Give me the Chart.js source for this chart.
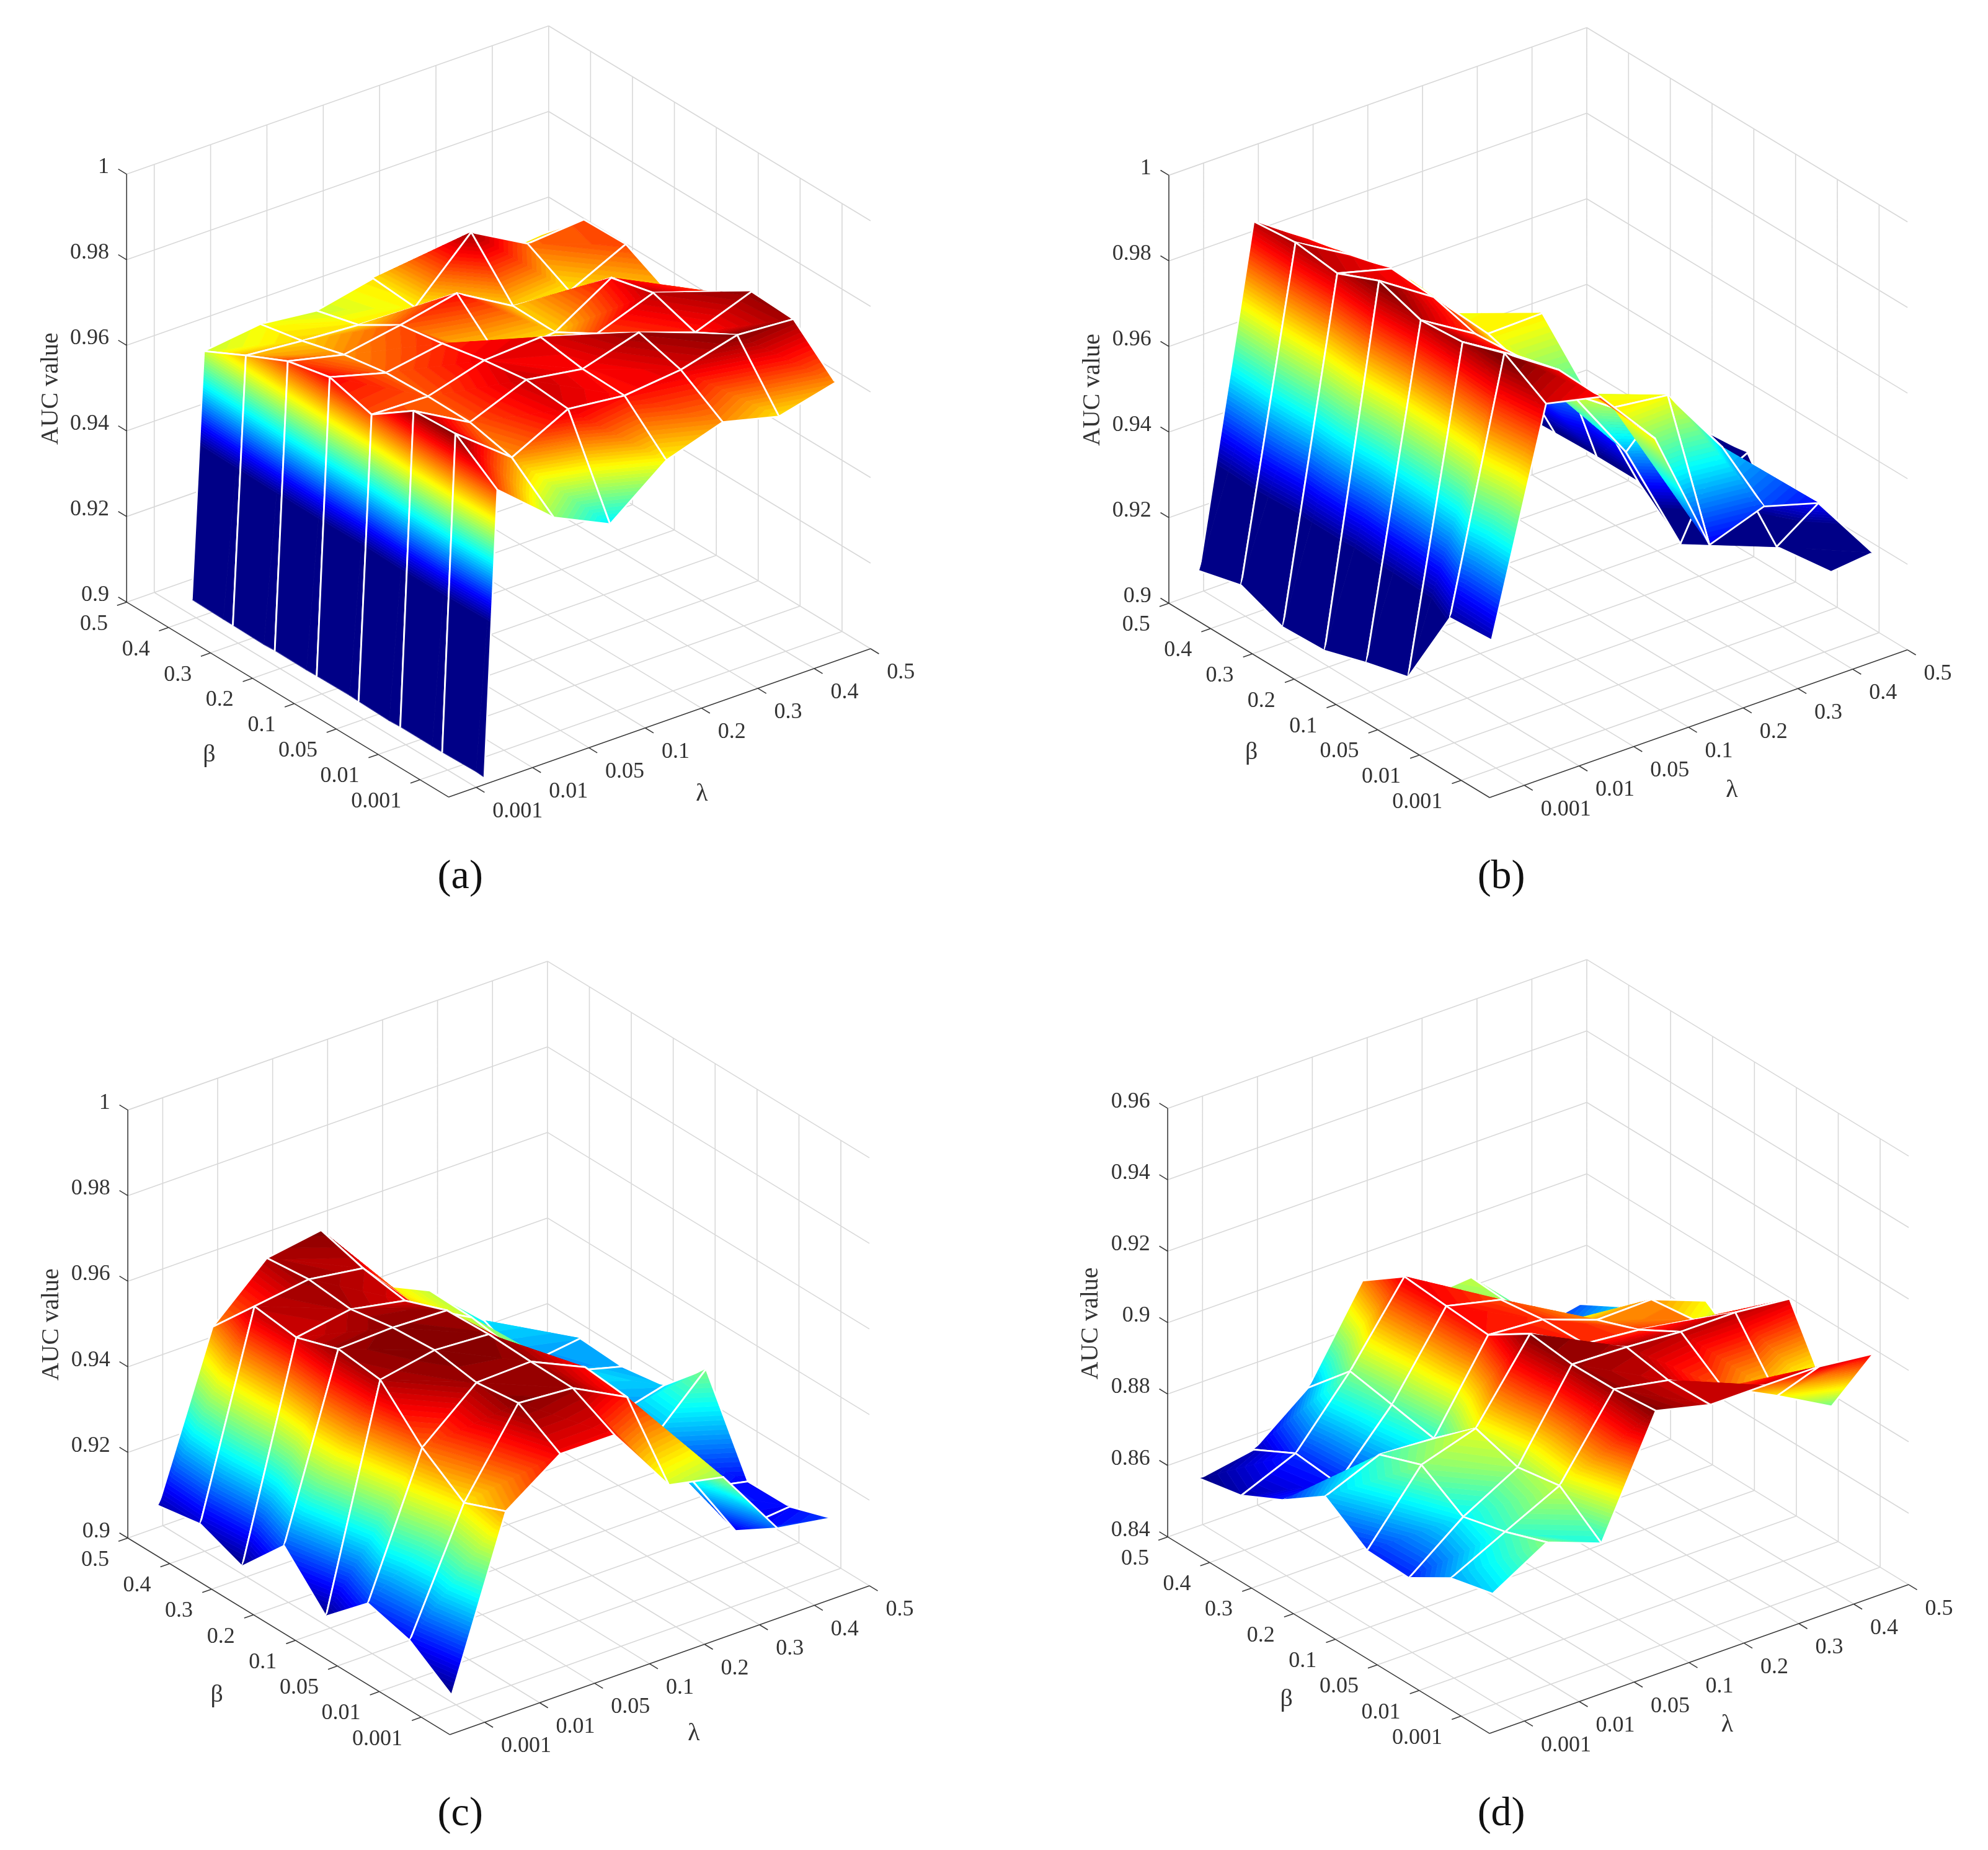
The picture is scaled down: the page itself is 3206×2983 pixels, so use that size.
<!DOCTYPE html>
<html>
<head>
<meta charset="utf-8">
<title>AUC value surfaces</title>
<style>
  html, body { margin: 0; background: #fff; }
  canvas { position: absolute; display: block; }
</style>
<script src="https://cdn.jsdelivr.net/npm/chart.js@4"></script>
</head>
<body>
<script>
// tick labels
const lambdaLabels = ["0.001", "0.01", "0.05", "0.1", "0.2", "0.3", "0.4", "0.5"];
const betaLabels = ["0.5", "0.4", "0.3", "0.2", "0.1", "0.05", "0.01", "0.001"];
const zTicksHigh = [0.9, 0.92, 0.94, 0.96, 0.98, 1];
const zLabelsHigh = ["0.9", "0.92", "0.94", "0.96", "0.98", "1"];
const zTicksLow = [0.84, 0.86, 0.88, 0.9, 0.92, 0.94, 0.96];
const zLabelsLow = ["0.84", "0.86", "0.88", "0.9", "0.92", "0.94", "0.96"];

// AUC values: one row per lambda, columns follow betaLabels.
// Row 0 of panel (a) sits under the axis floor and gets cut off there.
const aucA = [
  [0.692, 0.6929, 0.6775, 0.670, 0.6794, 0.6633, 0.6613, 0.6787],
  [0.9570, 0.9619, 0.9665, 0.9687, 0.9659, 0.9727, 0.9733, 0.9661],
  [0.9587, 0.9607, 0.9634, 0.9651, 0.9655, 0.9654, 0.9631, 0.9550],
  [0.9572, 0.9598, 0.9657, 0.9673, 0.9693, 0.9707, 0.9698, 0.9488],
  [0.9601, 0.9593, 0.9685, 0.9593, 0.9701, 0.9686, 0.9683, 0.9591],
  [0.9573, 0.9722, 0.9609, 0.9607, 0.9663, 0.9725, 0.9697, 0.9634],
  [0.9553, 0.9649, 0.9597, 0.9688, 0.9712, 0.9679, 0.9732, 0.9601],
  [0.9566, 0.9659, 0.9661, 0.9610, 0.9669, 0.9728, 0.9723, 0.9634]
];
const aucB = [
  [0.9050, 0.9076, 0.9037, 0.9041, 0.9072, 0.9098, 0.9295, 0.9302],
  [0.9822, 0.9832, 0.9819, 0.9861, 0.9828, 0.9836, 0.9869, 0.9810],
  [0.9738, 0.9759, 0.9785, 0.9778, 0.9751, 0.9759, 0.9785, 0.9781],
  [0.9638, 0.9664, 0.9635, 0.9647, 0.9618, 0.9625, 0.9652, 0.9639],
  [0.9469, 0.9501, 0.9521, 0.9650, 0.9537, 0.9444, 0.9636, 0.9345],
  [0.9253, 0.9260, 0.9265, 0.9269, 0.9269, 0.9185, 0.9470, 0.9390],
  [0.9169, 0.9169, 0.9169, 0.9327, 0.9186, 0.9281, 0.9192, 0.9353],
  [0.9125, 0.9131, 0.9217, 0.9239, 0.9248, 0.9092, 0.9088, 0.9192]
];
const aucC = [
  [0.9050, 0.9067, 0.9028, 0.9136, 0.9031, 0.9121, 0.9094, 0.9026],
  [0.9423, 0.9531, 0.9518, 0.9551, 0.9539, 0.9440, 0.9371, 0.9411],
  [0.9539, 0.9549, 0.9539, 0.9556, 0.9563, 0.9547, 0.9559, 0.9500],
  [0.9559, 0.9530, 0.9514, 0.9551, 0.9555, 0.9551, 0.9549, 0.9499],
  [0.9387, 0.9394, 0.9387, 0.9415, 0.9448, 0.9493, 0.9483, 0.9337],
  [0.9328, 0.9325, 0.9310, 0.9272, 0.9331, 0.9298, 0.9273, 0.9311],
  [0.9213, 0.9169, 0.9214, 0.9163, 0.9172, 0.9118, 0.9080, 0.9146],
  [0.9115, 0.9186, 0.9180, 0.9196, 0.9294, 0.9091, 0.9092, 0.9125]
];
const aucD = [
  [0.8532, 0.8556, 0.8615, 0.8697, 0.8617, 0.8612, 0.8683, 0.8711],
  [0.8559, 0.8620, 0.8608, 0.8760, 0.8803, 0.8729, 0.8759, 0.8801],
  [0.8678, 0.8796, 0.8774, 0.8751, 0.8851, 0.8814, 0.8834, 0.8744],
  [0.8924, 0.9007, 0.8996, 0.8987, 0.9062, 0.9048, 0.9050, 0.9061],
  [0.8812, 0.8867, 0.8960, 0.8976, 0.8980, 0.9042, 0.9021, 0.9024],
  [0.8825, 0.8817, 0.8837, 0.8921, 0.8965, 0.9031, 0.8946, 0.9024],
  [0.8611, 0.8678, 0.8784, 0.8924, 0.8939, 0.9031, 0.8869, 0.9023],
  [0.8642, 0.8707, 0.8754, 0.8866, 0.8781, 0.9015, 0.8785, 0.9005]
];

// layout of each panel. Corners are in plane units (see planeX/planeY scale below).
// lamGap: axis runs this many tick steps before the first lambda tick
const views = [
  { id: "a", auc: aucA, page: [0, 0], crop: [40, 20], height: 1500,
    C: [174, 1050], F: [724, 1397], R: [1445, 1133], zTop: 288, lamGap: 0.49,
    zTicks: zTicksHigh, zLabels: zLabelsHigh,
    lamStart: 0, lamStep: 1, betaStart: 0.5, cmin: 0.935, cmax: 0.9735,
    betaTitle: [315, 1322], lamTitle: [1157, 1392], zTitle: [45, 670], caption: [744, 1540] },
  { id: "b", auc: aucB, page: [1603, 0], crop: [97, 20], height: 1500,
    C: [196, 1052], F: [744, 1398], R: [1458, 1135], zTop: 290, lamGap: 0.635,
    zTicks: zTicksHigh, zLabels: zLabelsHigh,
    lamStart: 0.556, lamStep: 0.995, betaStart: 0, cmin: 0.9278, cmax: 0.9858,
    betaTitle: [337, 1318], lamTitle: [1158, 1385], zTitle: [66, 672], caption: [764, 1540] },
  { id: "c", auc: aucC, page: [0, 1500], crop: [40, 20], height: 1483,
    C: [176, 1060], F: [726, 1410], R: [1443, 1145], zTop: 298, lamGap: 0.635,
    zTicks: zTicksHigh, zLabels: zLabelsHigh,
    lamStart: 0.554, lamStep: 0.988, betaStart: 0, cmin: 0.9026, cmax: 0.9563,
    betaTitle: [328, 1340], lamTitle: [1143, 1408], zTitle: [46, 680], caption: [744, 1552] },
  { id: "d", auc: aucD, page: [1603, 1500], crop: [97, 20], height: 1483,
    C: [194, 1058], F: [744, 1408], R: [1460, 1143], zTop: 295, lamGap: 0.635,
    zTicks: zTicksLow, zLabels: zLabelsLow,
    lamStart: 0.576, lamStep: 0.991, betaStart: 0, cmin: 0.8532, cmax: 0.9062,
    betaTitle: [397, 1348], lamTitle: [1150, 1393], zTitle: [63, 678], caption: [764, 1552] }
];

const panelWidth = 1603;
const planeX = 1568 / 1480;
const planeY = 1568 / 1420;
const betaGap = 0.68;  // axis runs this many tick steps past the last beta tick
const fontFamily = '"Liberation Serif", "Times New Roman", serif';
const textColor = "#333333";

function jet(t) {
  const c = v => Math.round(255 * Math.min(1, Math.max(0, v)));
  return `rgb(${c(1.5 - Math.abs(4 * t - 3))},${c(1.5 - Math.abs(4 * t - 2))},${c(1.5 - Math.abs(4 * t - 1))})`;
}

// keeps the part of a polygon above (or below) a z level
function clipZ(poly, level, keepAbove) {
  const out = [];
  const inside = p => keepAbove ? p.z >= level : p.z <= level;
  for (let n = 0; n < poly.length; n++) {
    const p = poly[n], q = poly[(n + 1) % poly.length];
    if (inside(p)) out.push(p);
    if (inside(p) !== inside(q)) {
      const f = (level - p.z) / (q.z - p.z);
      out.push({ la: p.la + f * (q.la - p.la), be: p.be + f * (q.be - p.be), z: level });
    }
  }
  return out;
}

function makeProjection(view) {
  const zMin = view.zTicks[0];
  const zMax = view.zTicks[view.zTicks.length - 1];
  const lx = (view.R[0] - view.F[0]) / (7 + view.lamGap), ly = (view.R[1] - view.F[1]) / (7 + view.lamGap);
  const bx = (view.F[0] - view.C[0]) / (7 + betaGap), by = (view.F[1] - view.C[1]) / (7 + betaGap);
  const zh = view.C[1] - view.zTop;
  // la, be are tick steps from the left corner C
  return (la, be, z) => ({
    x: view.C[0] + la * lx + be * bx,
    y: view.C[1] + la * ly + be * by - (z - zMin) / (zMax - zMin) * zh
  });
}

function buildLines(view, project) {
  const grid = [], axis = [];
  const zMin = view.zTicks[0];
  const zMax = view.zTicks[view.zTicks.length - 1];
  const laEnd = 7 + view.lamGap, beEnd = 7 + betaGap;
  const add = (list, p, q) => list.push(p, q, { x: q.x, y: null });

  view.zTicks.forEach(z => {
    add(grid, project(0, 0, z), project(laEnd, 0, z));
    add(grid, project(laEnd, 0, z), project(laEnd, beEnd, z));
    add(axis, project(0, 0, z), project(0, -0.2, z));
  });
  for (let k = 0; k < 8; k++) {
    const la = view.lamGap + k;
    add(grid, project(la, 0, zMin), project(la, 0, zMax));
    add(grid, project(la, 0, zMin), project(la, beEnd, zMin));
    add(axis, project(la, beEnd, zMin), project(la, beEnd + 0.2, zMin));
    add(grid, project(0, k, zMin), project(laEnd, k, zMin));
    add(axis, project(0, k, zMin), project(-0.17, k, zMin));
    if (k > 0) add(grid, project(laEnd, k, zMin), project(laEnd, k, zMax));
  }
  add(axis, project(0, 0, zMin), project(0, 0, zMax));
  add(axis, project(0, 0, zMin), project(0, beEnd, zMin));
  add(axis, project(0, beEnd, zMin), project(laEnd, beEnd, zMin));
  return { grid, axis };
}

function surfacePlugin(view, project) {
  const zFloor = view.zTicks[0];
  const vertex = (i, j) => ({
    la: view.lamStart + i * view.lamStep,
    be: view.betaStart + j,
    z: view.auc[i][j]
  });

  return {
    id: "surface3d",
    afterDatasetsDraw(chart) {
      const ctx = chart.ctx;
      const sx = chart.scales.x, sy = chart.scales.y;
      const px = p => {
        const q = project(p.la, p.be, p.z);
        return [sx.getPixelForValue(q.x), sy.getPixelForValue(q.y)];
      };
      const bandSize = (view.cmax - view.cmin) / 64;

      const fillTriangle = tri => {
        const kept = clipZ(tri, zFloor, true);
        if (kept.length < 3) return;
        for (let k = 0; k < 64; k++) {
          let piece = kept;
          if (k > 0) piece = clipZ(piece, view.cmin + k * bandSize, true);
          if (k < 63 && piece.length) piece = clipZ(piece, view.cmin + (k + 1) * bandSize, false);
          if (piece.length < 3) continue;
          ctx.beginPath();
          piece.forEach((p, n) => {
            const [x, y] = px(p);
            n ? ctx.lineTo(x, y) : ctx.moveTo(x, y);
          });
          ctx.closePath();
          const color = jet((k + 0.5) / 64);
          ctx.fillStyle = color;
          ctx.strokeStyle = color;
          ctx.lineWidth = 0.8;
          ctx.fill();
          ctx.stroke();
        }
      };

      const strokeEdges = edges => {
        ctx.beginPath();
        edges.forEach(([p, q]) => {
          const kept = clipZ([p, q], zFloor, true);
          if (kept.length < 2) return;
          const a = px(kept[0]), b = px(kept[1]);
          ctx.moveTo(a[0], a[1]);
          ctx.lineTo(b[0], b[1]);
        });
        ctx.strokeStyle = "#ffffff";
        ctx.lineWidth = 2.8;
        ctx.lineCap = "round";
        ctx.stroke();
      };

      ctx.save();
      ctx.lineJoin = "round";
      // far corner first so nearer cells paint over it. Each cell folds along a-c,
      // the a-b-c half is behind a-c-d so its edges go down before a-c-d is filled
      for (let i = 6; i >= 0; i--) {
        for (let j = 0; j < 7; j++) {
          const a = vertex(i, j), b = vertex(i + 1, j), c = vertex(i + 1, j + 1), d = vertex(i, j + 1);
          fillTriangle([a, b, c]);
          strokeEdges([[a, b], [b, c]]);
          fillTriangle([a, c, d]);
          strokeEdges([[c, d], [d, a]]);
        }
      }
      ctx.restore();
    },
    afterDraw(chart) {
      const ctx = chart.ctx;
      const sx = chart.scales.x, sy = chart.scales.y;
      const zMin = view.zTicks[0];
      const put = (text, x, y, align, size) => {
        ctx.font = `${size}px ${fontFamily}`;
        ctx.textAlign = align;
        ctx.fillText(text, sx.getPixelForValue(x), sy.getPixelForValue(y));
      };

      ctx.save();
      ctx.fillStyle = textColor;
      ctx.textBaseline = "middle";
      view.zTicks.forEach((z, n) => {
        const p = project(0, 0, z);
        put(view.zLabels[n], p.x - 30, p.y - 12, "right", 36);
      });
      betaLabels.forEach((label, k) => {
        const p = project(0, k, zMin);
        put(label, p.x - 32, p.y + 39, "right", 36);
      });
      lambdaLabels.forEach((label, k) => {
        const p = project(view.lamGap + k, 7 + betaGap, zMin);
        put(label, p.x + 28, p.y + 43, "left", 36);
      });
      put("β", view.betaTitle[0], view.betaTitle[1], "center", 40);
      put("λ", view.lamTitle[0], view.lamTitle[1], "center", 40);

      ctx.save();
      ctx.translate(sx.getPixelForValue(view.zTitle[0]), sy.getPixelForValue(view.zTitle[1]));
      ctx.rotate(-Math.PI / 2);
      ctx.font = `40px ${fontFamily}`;
      ctx.textAlign = "center";
      ctx.fillText("AUC value", 0, 0);
      ctx.restore();

      ctx.fillStyle = "#111111";
      put(`(${view.id})`, view.caption[0], view.caption[1], "center", 66);
      ctx.restore();
    }
  };
}

views.forEach(view => {
  const canvas = document.createElement("canvas");
  canvas.width = panelWidth;
  canvas.height = view.height;
  canvas.style.left = view.page[0] + "px";
  canvas.style.top = view.page[1] + "px";
  document.body.appendChild(canvas);

  const project = makeProjection(view);
  const lines = buildLines(view, project);
  const vertices = [];
  view.auc.forEach((row, i) => row.forEach((z, j) => {
    vertices.push(project(view.lamStart + i * view.lamStep, view.betaStart + j, Math.max(z, view.zTicks[0])));
  }));

  new Chart(canvas.getContext("2d"), {
    type: "scatter",
    data: {
      datasets: [
        { label: "grid", data: lines.grid, showLine: true, borderColor: "#d8d8d8", borderWidth: 1.6, pointRadius: 0, order: 3 },
        { label: "axes", data: lines.axis, showLine: true, borderColor: "#3a3a3a", borderWidth: 1.6, pointRadius: 0, order: 2 },
        { label: "AUC value", data: vertices, showLine: false, pointRadius: 0, order: 1 }
      ]
    },
    options: {
      responsive: false,
      animation: false,
      layout: { padding: 0 },
      plugins: { legend: { display: false }, tooltip: { enabled: false } },
      events: [],
      scales: {
        x: { type: "linear", display: false, min: -view.crop[0] * planeX, max: (panelWidth - view.crop[0]) * planeX },
        y: { type: "linear", display: false, reverse: true, min: -view.crop[1] * planeY, max: (view.height - view.crop[1]) * planeY }
      }
    },
    plugins: [surfacePlugin(view, project)]
  });
});
</script>
</body>
</html>
